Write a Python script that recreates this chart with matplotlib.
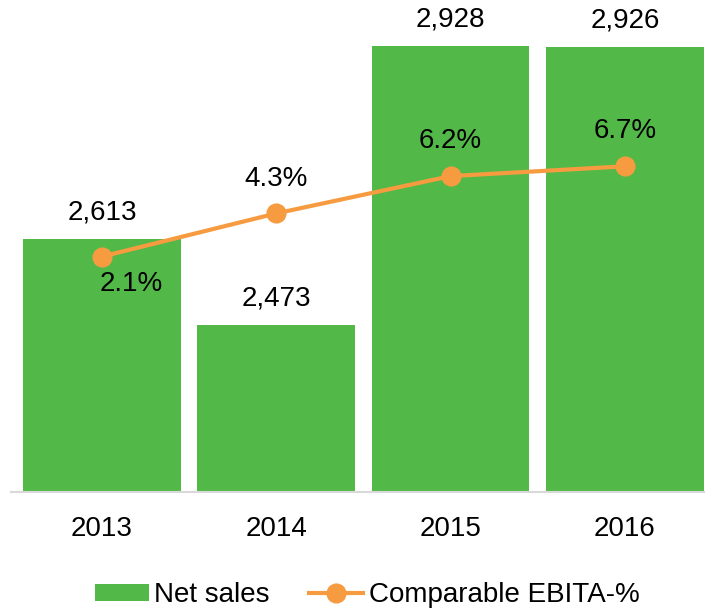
import matplotlib.pyplot as plt
import numpy as np

plt.rcParams['font.family'] = ['Liberation Sans', 'DejaVu Sans']

years = ['2013', '2014', '2015', '2016']
net_sales = [2613, 2473, 2928, 2926]
ebita_pct = [2.1, 4.3, 6.2, 6.7]
ebita_labels = ['2.1%', '4.3%', '6.2%', '6.7%']

green = '#52B848'
orange = '#F79B40'

fig = plt.figure(figsize=(7.05, 6.12), dpi=100)
ax = fig.add_axes([11 / 705, 120 / 612, 694 / 705, 490.5 / 612])
x = np.arange(len(years))

ax.bar(x, net_sales, width=0.906, color=green, label='Net sales', zorder=2)
ax.set_ylim(2200, 3000)
ax.set_xlim(-0.522, 3.46)
for xi, v in zip(x, net_sales):
    ax.annotate(f'{v:,}', (xi, v), xytext=(0, 19), textcoords='offset points',
                ha='center', va='center', fontsize=20)

ax.set_yticks([])
ax.set_xticks(x)
ax.set_xticklabels(years, fontsize=20)
ax.tick_params(axis='x', length=0, pad=17)
for s in ['top', 'right', 'left']:
    ax.spines[s].set_visible(False)
ax.spines['bottom'].set_color('#D9D9D9')
ax.spines['bottom'].set_linewidth(1.5)
ax.spines['bottom'].set_zorder(3)

# EBITA margin on its own scale
ax2 = ax.twinx()
ax2.plot(x, ebita_pct, color=orange, lw=3, marker='o', markersize=13.5,
         label='Comparable EBITA-%', zorder=4)
ax2.set_ylim(-9.9, 15.1)
ax2.set_yticks([])
for s in ['top', 'right', 'left', 'bottom']:
    ax2.spines[s].set_visible(False)

offsets = [(21, -20), (0, 24.5), (0, 25.5), (0, 25.5)]
for xi, v, lab, off in zip(x, ebita_pct, ebita_labels, offsets):
    ax2.annotate(lab, (xi, v), xytext=off, textcoords='offset points',
                 ha='center', va='center', fontsize=20)

h1, l1 = ax.get_legend_handles_labels()
h2, l2 = ax2.get_legend_handles_labels()
fig.legend(h1 + h2, l1 + l2, loc='center', bbox_to_anchor=(367 / 705, 1 - 595 / 612),
           ncol=2, frameon=False, fontsize=20, handlelength=1.95, handleheight=0.58,
           handletextpad=0.2, columnspacing=1.4, borderaxespad=0)

fig.savefig('out.png', dpi=100)
